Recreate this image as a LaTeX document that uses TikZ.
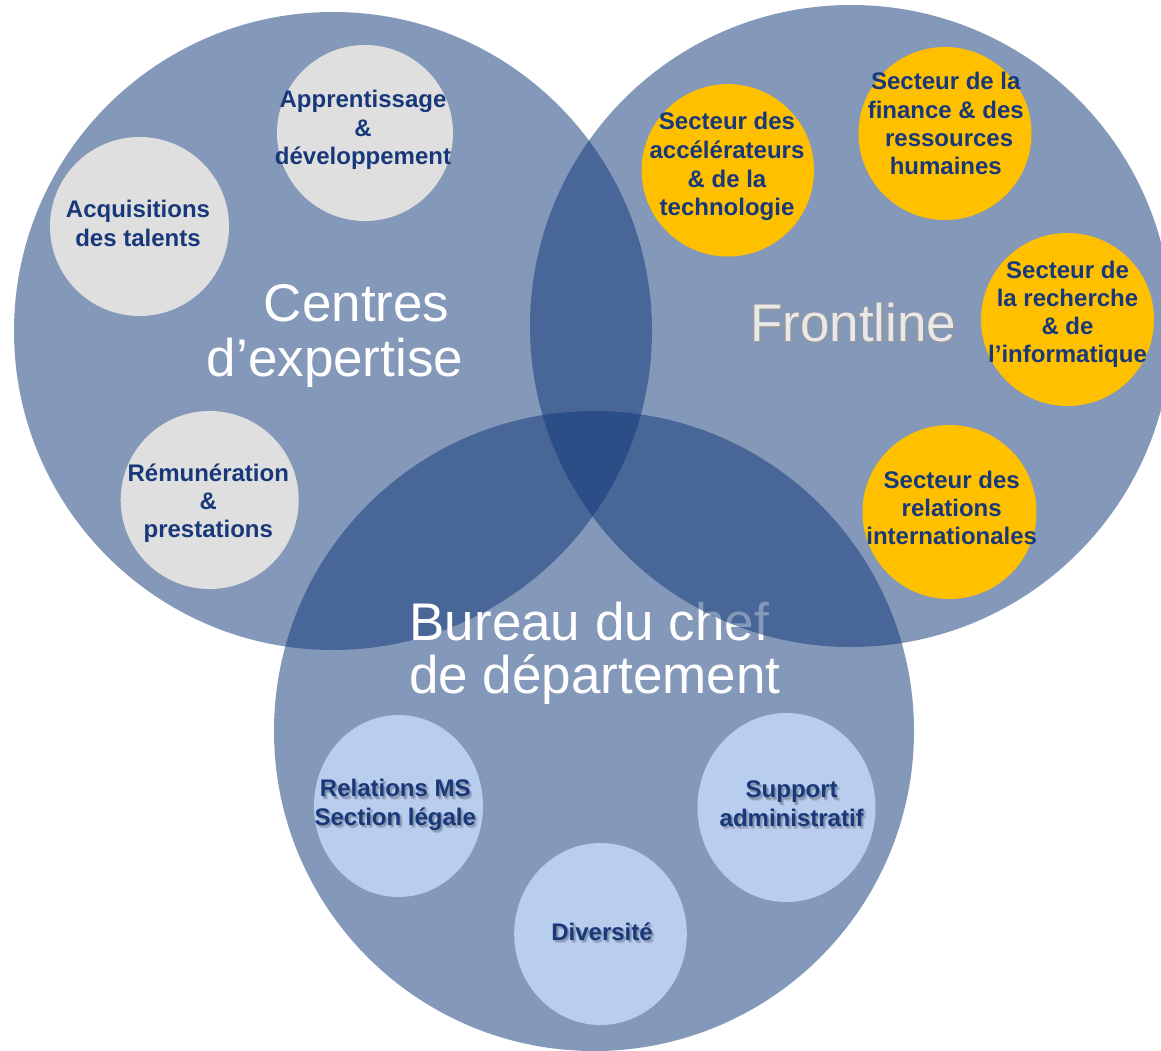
\documentclass[tikz,border=0pt]{standalone}
\usepackage{fontspec}
\setmainfont{Liberation Sans}
\usetikzlibrary{shapes.geometric}
\definecolor{venn}{RGB}{18,57,121}
\definecolor{greyc}{RGB}{223,223,223}
\definecolor{goldc}{RGB}{255,192,0}
\definecolor{paleb}{RGB}{185,205,239}
\definecolor{navy}{RGB}{24,56,122}
\definecolor{silver}{RGB}{232,232,232}
\definecolor{silveredge}{RGB}{150,150,150}
\tikzset{
  bigc/.style={circle, inner sep=0pt, outer sep=0pt, minimum size=#1, fill=venn, fill opacity=0.516, draw=none},
  roundc/.style={circle, inner sep=0pt, outer sep=0pt, minimum size=#1, draw=none},
  ovalc/.style={ellipse, inner sep=0pt, outer sep=0pt, draw=none},
  lbl/.style={font=\fontsize{24}{28.5}\selectfont\bfseries, text=navy, anchor=base, inner sep=0pt},
  lblshadow/.style={font=\fontsize{24}{28.5}\selectfont\bfseries, text=black, text opacity=#1, anchor=base, inner sep=0pt},
  title/.style={font=\fontsize{53}{56}\selectfont, text=white, anchor=base, inner sep=0pt},
  ftitle/.style={font=\fontsize{53}{56}\selectfont, text=#1, anchor=base, inner sep=0pt},
}
% soft drop shadow under a label line: position x, y, name, text
\newcommand\softlbl[4]{%
  \foreach \sx/\sy [count=\j] in {1/1.5,2/2.5,3/3.5,2.5/1.5,1.5/3}{
    \node[lblshadow=0.07] (#3s\j) at (#1+\sx,#2+\sy) {#4};
  }
  \node[lbl] (#3) at (#1,#2) {#4};
}
\begin{document}
\begin{tikzpicture}[x=1pt,y=-1pt]
\useasboundingbox (0,0) rectangle (1161,1051);
\clip (0,0) rectangle (1161,1051);
\fill[white] (0,0) rectangle (1161,1051);

% ---------- Centres d'expertise ----------
\node[bigc=638pt] (ce) at (333,331) {};
\node[roundc=176pt, fill=greyc] (appr) at (365,133) {};
\node[lbl] (appr1) at (363,107.5) {Apprentissage};
\node[lbl] (appr2) at (363,136.5) {\&};
\node[lbl] (appr3) at (363,164.5) {développement};
\node[roundc=179pt, fill=greyc] (acq) at (139.5,226.5) {};
\node[lbl] (acq1) at (138,218) {Acquisitions};
\node[lbl] (acq2) at (138,246.5) {des talents};
\node[roundc=178pt, fill=greyc] (rem) at (209.7,500) {};
\node[lbl] (rem1) at (208.3,481) {Rémunération};
\node[lbl] (rem2) at (208.3,509) {\&};
\node[lbl] (rem3) at (208.3,537.5) {prestations};
\node[title] (ce1) at (356.7,321) {Centres};
\node[title] (ce2) at (335,376.7) {d’expertise};

% ---------- Bureau du chef de département ----------
\node[bigc=640pt] (bu) at (594,731) {};
\node[title] (bu1) at (589.3,640) {Bureau du chef};
\node[title] (bu2) at (595,693) {de département};
\node[ovalc, minimum width=169pt, minimum height=182pt, fill=paleb] (rms) at (398.5,806) {};
\softlbl{395.3}{796.7}{rms1}{Relations MS}
\softlbl{395.3}{825}{rms2}{Section légale}
\node[ovalc, minimum width=178pt, minimum height=189pt, fill=paleb] (sup) at (786.5,807.5) {};
\softlbl{791.7}{797.7}{sup1}{Support}
\softlbl{791.7}{826}{sup2}{administratif}
\node[ovalc, minimum width=172.6pt, minimum height=182pt, fill=paleb] (div) at (600.5,934) {};
\softlbl{602}{940}{div1}{Diversité}

% ---------- Frontline ----------
\node[bigc=642pt] (fr) at (851,326) {};
\foreach \dx/\dy [count=\k] in {-0.7/0,0.9/0,0/-0.7,0/0.9,0.8/0.8,-0.6/0.6,0.6/-0.6,-0.6/-0.6,1.2/1.2}{
  \node[ftitle=silveredge] (fro\k) at (853.3+\dx,341.7+\dy) {Frontline};
}
\node[ftitle=silver] (fro) at (853.3,341.7) {Frontline};

\node[roundc=172.4pt, fill=goldc] (acc) at (727.8,170.3) {};
\node[lbl] (acc1) at (727,129.3) {Secteur des};
\node[lbl] (acc2) at (727,158.3) {accélérateurs};
\node[lbl] (acc3) at (727,187.3) {\& de la};
\node[lbl] (acc4) at (727,215.7) {technologie};
\node[roundc=173pt, fill=goldc] (fin) at (945,133.5) {};
\node[lbl] (fin1) at (945.8,90) {Secteur de la};
\node[lbl] (fin2) at (945.8,118.3) {finance \& des};
\node[lbl] (fin3) at (949.1,146.7) {ressources};
\node[lbl] (fin4) at (945.8,175) {humaines};
\node[roundc=173pt, fill=goldc] (rec) at (1067.5,319.5) {};
\node[lbl] (rec1) at (1067.5,278.3) {Secteur de};
\node[lbl] (rec2) at (1067.5,306) {la recherche};
\node[lbl] (rec3) at (1067.5,334.3) {\& de};
\node[lbl] (rec4) at (1067.5,362.7) {l’informatique};
\node[roundc=174pt, fill=goldc] (rel) at (949.5,512) {};
\node[lbl] (rel1) at (951.7,488.3) {Secteur des};
\node[lbl] (rel2) at (951.7,516) {relations};
\node[lbl] (rel3) at (951.7,544) {internationales};
\end{tikzpicture}
\end{document}
